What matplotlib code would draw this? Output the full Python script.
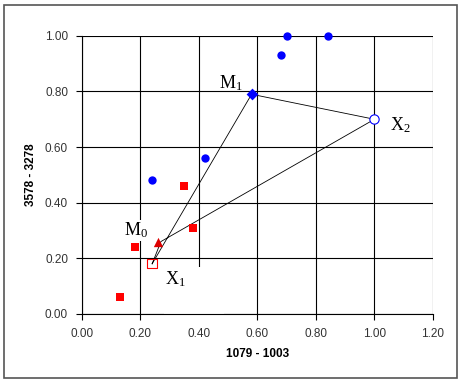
# plot.py
# Two-group scatter with simplex construction (M0, M1, X1, X2)

import matplotlib.pyplot as plt
from matplotlib.patches import Rectangle

plt.rcParams.update({
    'font.family': 'Liberation Sans',
    'font.size': 8,
    'mathtext.fontset': 'custom',
    'mathtext.rm': 'Liberation Serif',
    'mathtext.it': 'Liberation Serif',
})

# ── Data ─────────────────────────────────────────────────────────────────────

blue_x = [0.24, 0.42, 0.68, 0.70, 0.84]
blue_y = [0.48, 0.56, 0.93, 1.00, 1.00]

red_x = [0.13, 0.18, 0.35, 0.38]
red_y = [0.06, 0.24, 0.46, 0.31]

m0 = (0.26, 0.26)
m1 = (0.58, 0.79)
x1 = (0.24, 0.18)
x2 = (1.00, 0.70)

# outline: X1 -> M1 -> X2 -> M0 tip -> X1
path_x = [x1[0], m1[0], x2[0], 0.27, x1[0]]
path_y = [x1[1], m1[1], x2[1], 0.26, x1[1]]

xticks = [0.0, 0.2, 0.4, 0.6, 0.8, 1.0, 1.2]
yticks = [0.0, 0.2, 0.4, 0.6, 0.8, 1.0]

# ── Figure ───────────────────────────────────────────────────────────────────

fig = plt.figure(figsize=(4.63, 3.86), dpi=100)
fig.patches.append(Rectangle((0.009, 0.022), 0.978, 0.965, transform=fig.transFigure,
                             fill=False, edgecolor='#555555', linewidth=1.2))
ax = fig.add_axes([0.177, 0.187, 0.758, 0.72])

ax.grid(True, color='black', linewidth=0.8, zorder=0)
ax.set_axisbelow(True)

ax.plot(path_x, path_y, color='black', linewidth=0.6, zorder=2)

ax.scatter(blue_x, blue_y, marker='o', s=36, color='#0000ff', zorder=3,
           linewidths=0, clip_on=False)
ax.scatter(red_x, red_y, marker='s', s=32, color='#ff0000', zorder=3, linewidths=0)
ax.scatter([m1[0]], [m1[1]], marker='D', s=36, color='#0000ff', zorder=3, linewidths=0)
ax.scatter([m0[0]], [m0[1]], marker='^', s=45, color='#dd0000', zorder=3, linewidths=0)
ax.scatter([x2[0]], [x2[1]], marker='o', s=45, facecolor='white',
           edgecolor='#0000ff', linewidth=0.8, zorder=3)
ax.scatter([x1[0]], [x1[1]], marker='s', s=45, facecolor='none',
           edgecolor='#ff0000', linewidth=0.8, zorder=3)

lbl = dict(fontsize=13, zorder=1)
ax.text(0.51, 0.83, r'$\mathrm{M}_1$', ha='center', va='center', **lbl)
ax.text(1.09, 0.68, r'$\mathrm{X}_2$', ha='center', va='center', **lbl)
ax.text(0.185, 0.30, r'$\mathrm{M}_0$', ha='center', va='center',
        bbox=dict(facecolor='white', edgecolor='none', pad=0.5), **lbl)
ax.text(0.285, 0.16, r'$\mathrm{X}_1$' + '        \n\n', ha='left', va='top',
        linespacing=1.0,
        bbox=dict(facecolor='white', edgecolor='none', pad=1), **lbl)

ax.set_xlim(0, 1.2)
ax.set_ylim(0, 1.0)
ax.set_xticks(xticks)
ax.set_yticks(yticks)
ax.set_xticklabels([f'{v:.2f}' for v in xticks])
ax.set_yticklabels([f'{v:.2f}' for v in yticks])
ax.tick_params(direction='out', length=4, width=0.8, labelsize=8.5,
               labelcolor='#333333', pad=6)

for side in ['top', 'right']:
    ax.spines[side].set_visible(False)
for side in ['left', 'bottom']:
    ax.spines[side].set_linewidth(0.8)
    ax.spines[side].set_zorder(4)

ax.set_xlabel('1079 - 1003', fontweight='bold', fontsize=8.5, labelpad=6)
ax.set_ylabel('3578 - 3278', fontweight='bold', fontsize=8.5, labelpad=6)

plt.savefig('out.png', dpi=100)
